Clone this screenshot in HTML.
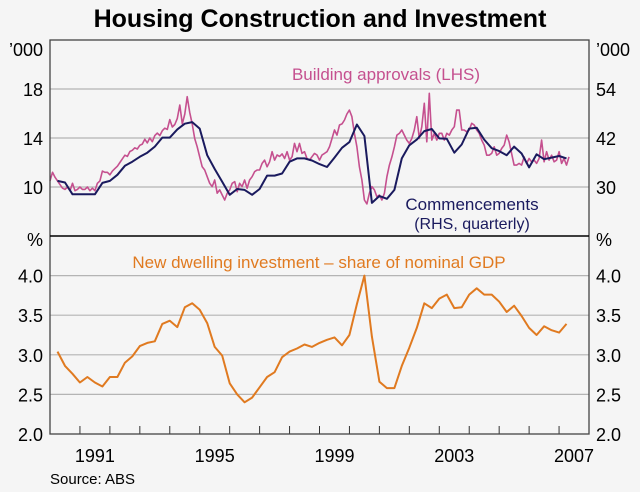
<!DOCTYPE html>
<html><head><meta charset="utf-8"><style>
html,body{margin:0;padding:0;background:#f5f5f5;}
svg{display:block;font-family:"Liberation Sans",Arial,sans-serif;}
</style></head><body>
<svg id="chart" width="640" height="492" viewBox="0 0 640 492">
<rect x="0" y="0" width="640" height="492" fill="#f5f5f5"/>
<text x="320" y="27" text-anchor="middle" font-size="25" font-weight="bold" fill="#000">Housing Construction and Investment</text>
<g id="grid"></g>
<g id="series"></g>
<g id="frame"></g>
<g id="labels"></g>
<text x="386" y="80" text-anchor="middle" font-size="17" fill="#c5508f">Building approvals (LHS)</text>
<text x="472" y="210" text-anchor="middle" font-size="17" fill="#1a1a5e">Commencements</text>
<text x="472" y="229" text-anchor="middle" font-size="16" fill="#1a1a5e">(RHS, quarterly)</text>
<text x="319" y="268" text-anchor="middle" font-size="17" fill="#e07a20">New dwelling investment – share of nominal GDP</text>
<text x="50" y="484" font-size="15" fill="#000">Source: ABS</text>
</svg>
<script>
const approvals = [10.5,11.2,10.8,10.5,10.2,9.9,9.8,10.0,9.7,10.3,9.7,9.8,10.0,9.8,9.8,10.0,9.7,9.9,9.7,10.3,10.5,11.3,11.2,11.2,11.0,11.3,11.5,11.7,12.0,12.3,12.6,12.5,12.9,13.0,13.2,13.1,13.4,13.5,13.9,13.6,14.0,13.7,14.2,14.4,14.2,14.6,14.8,14.7,15.5,14.9,15.1,15.6,
16.69,15.15,15.96,17.37,16.1,15.15,13.96,13.28,12.46,11.65,11.39,10.84,10.3,10.03,10.57,9.49,9.76,9.35,8.94,9.49,9.76,10.3,10.44,9.62,10.3,10.03,10.57,9.89,10.57,10.84,11.25,11.39,11.39,11.93,12.2,11.65,12.06,12.88,12.2,12.61,12.5,12.7,12.33,12.88,12.2,12.47,13.56,12.88,13.56,12.74,12.88,12.33,12.2,12.47,12.74,12.61,12.2,12.61,12.74,12.88,13.28,13.96,14.65,14.24,15.06,15.15,15.47,15.96,16.28,15.74,14.38,13.28,11.65,10.57,8.94,8.62,9.49,10.03,9.76,9.2,
9.35,8.94,9.49,10.84,11.79,12.46,13.28,14.24,14.38,14.65,14.24,13.83,13.56,13.96,14.65,15.74,13.96,14.92,16.83,13.69,17.65,13.83,14.38,13.83,14.38,14.38,13.83,14.38,14.24,14.65,14.92,16.28,16.28,14.65,14.65,14.51,14.65,15.2,15.06,14.65,14.38,13.83,13.42,12.6,12.6,12.74,13.28,12.6,12.74,13.15,13.42,14.24,13.69,12.74,11.79,11.79,11.93,11.79,12.46,11.93,12.33,12.06,12.2,11.93,12.33,13.83,12.06,12.88,12.2,12.6,12.06,12.2,12.88,11.93,12.33,11.79,12.46];
const approvalsStart = 1990.0;
const commencements = [31.5,31.1,28.2,28.2,28.2,28.2,31.0,31.5,33.0,35.2,36.2,37.4,38.4,39.9,42.1,42.1,44.1,45.5,45.9,44.3,37.8,34.4,31.3,28.1,29.5,29.3,28.1,29.5,32.8,32.8,33.3,36.2,37.0,37.0,36.5,35.6,34.9,37.2,39.6,41.0,45.3,42.5,26.1,27.8,27.1,29.3,37.0,40.2,41.6,43.7,44.2,41.9,41.8,38.4,40.4,44.3,44.5,41.6,39.5,38.8,37.8,39.9,38.2,34.8,38.0,36.8,37.2,37.6,37.0];
const commStart = 1990.25;
const gdpShare = [3.04,2.86,2.76,2.65,2.72,2.65,2.60,2.72,2.72,2.90,2.98,3.11,3.15,3.17,3.39,3.43,3.35,3.60,3.65,3.57,3.40,3.10,2.99,2.64,2.50,2.40,2.46,2.59,2.72,2.78,2.97,3.04,3.08,3.13,3.10,3.15,3.19,3.22,3.12,3.25,3.64,4.00,3.23,2.66,2.58,2.58,2.86,3.09,3.34,3.65,3.59,3.71,3.76,3.59,3.60,3.76,3.84,3.76,3.76,3.67,3.54,3.62,3.49,3.34,3.25,3.36,3.31,3.28,3.39];
const gdpStart = 1990.25;
const topTicksL = [10,14,18];
const topTicksR = [30,42,54];
const botTicks = [2.0,2.5,3.0,3.5,4.0];
const yearLabels = [1991,1995,1999,2003,2007];

const NS="http://www.w3.org/2000/svg";
const L=50,R=589,TOP=40,MID=236,BOT=434;
const x=t=>L+(t-1990)/(2008-1990)*(R-L);
const yTop=v=>MID-(v-6)/(22-6)*(MID-TOP);
const yTopR=v=>yTop(v/3);
const yBot=v=>BOT-(v-2)/(4.5-2)*(BOT-MID);
function mk(tag,attrs,parent,txt){const e=document.createElementNS(NS,tag);for(const k in attrs)e.setAttribute(k,attrs[k]);if(txt!==undefined)e.textContent=txt;document.getElementById(parent).appendChild(e);return e;}

topTicksL.forEach((v,i)=>{
  const g=mk('line',{x1:L,x2:R,y1:yTop(v),y2:yTop(v),stroke:'#b4b4b4','stroke-width':1.2},'grid');
  
  
  const t=mk('text',{x:43,y:yTop(v)+7,'text-anchor':'end','font-size':18},'labels',String(v));
  
  
  const t2=mk('text',{x:596,y:yTopR(topTicksR[i])+7,'font-size':18},'labels',String(topTicksR[i]));
  
  
});
botTicks.forEach(v=>{
  if(v>2){const g=mk('line',{x1:L,x2:R,y1:yBot(v),y2:yBot(v),stroke:'#b4b4b4','stroke-width':1.2},'grid');
  
  }
  const t=mk('text',{x:43,y:yBot(v)+7,'text-anchor':'end','font-size':18},'labels',v.toFixed(1));
  
  
  const t2=mk('text',{x:596,y:yBot(v)+7,'font-size':18},'labels',v.toFixed(1));
  
  
});
[['\u2019000',43,'end',56],['\u2019000',596,'start',56],['%',43,'end',246],['%',596,'start',246]].forEach(a=>{
  const t=mk('text',{x:a[1],y:a[3],'text-anchor':a[2],'font-size':18},'labels',a[0]);
  
  
});
yearLabels.forEach(yr=>{
  const t=mk('text',{x:x(yr+0.5),y:462,'text-anchor':'middle','font-size':18},'labels',String(yr));
  
  
});
for(let yr=1991;yr<2008;yr++){
  const k=mk('line',{x1:x(yr),x2:x(yr),y1:BOT,y2:BOT-8,stroke:'#333','stroke-width':1},'frame');
  
  
}
const fr=mk('rect',{x:L,y:TOP,width:R-L,height:BOT-TOP,fill:'none',stroke:'#444','stroke-width':1.3},'frame');


const dv=mk('line',{x1:L,x2:R,y1:MID,y2:MID,stroke:'#000','stroke-width':1.6},'frame');



function line(arr,start,step,fy,color,w,name){
  const d=arr.map((v,i)=>(i?'L':'M')+x(start+i*step).toFixed(1)+','+fy(v).toFixed(1)).join('');
  const p=mk('path',{d:d,fill:'none',stroke:color,'stroke-width':w,'stroke-linejoin':'round'},'series');
  
  
}
line(approvals,approvalsStart,1/12,yTop,'#c5508f',1.6,'building-approvals-line');
line(commencements,commStart,0.25,yTopR,'#1a1a5e',2,'commencements-line');
line(gdpShare,gdpStart,0.25,yBot,'#e07a20',2,'dwelling-investment-line');
</script>
</body></html>
